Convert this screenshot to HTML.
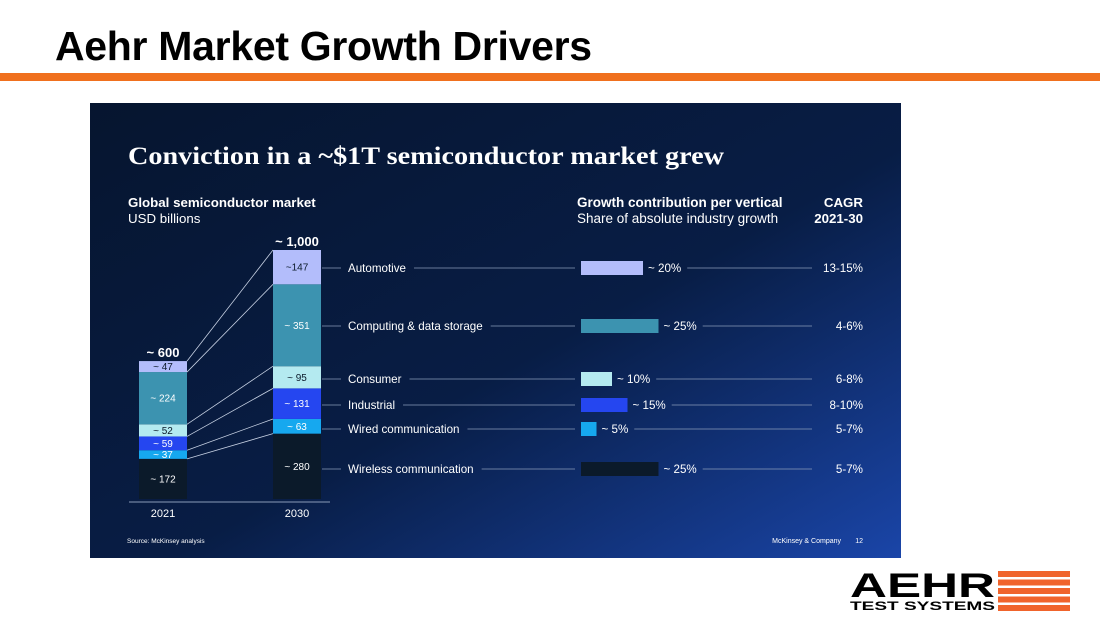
<!DOCTYPE html>
<html><head><meta charset="utf-8">
<style>
body{margin:0;width:1100px;height:619px;background:#fff;position:relative;overflow:hidden;font-family:"Liberation Sans",sans-serif}
#title{position:absolute;left:55px;top:23px;font-size:41px;font-weight:bold;color:#000;letter-spacing:-0.3px;white-space:nowrap}
#rule{position:absolute;left:0;top:73px;width:1100px;height:8px;background:#f0701e}
#panel{position:absolute;left:90px;top:103px}
#logo{position:absolute;left:850px;top:570px;width:222px;height:42px}
</style></head><body>
<div id="title">Aehr Market Growth Drivers</div>
<div id="rule"></div>
<svg id="panel" width="811" height="455" viewBox="90 103 811 455" font-family="Liberation Sans, sans-serif">
<defs><linearGradient id="bg" x1="0" y1="0" x2="1" y2="1">
<stop offset="0" stop-color="#06152f"/><stop offset="0.55" stop-color="#081d45"/><stop offset="1" stop-color="#1a45a8"/></linearGradient></defs>
<rect x="90" y="103" width="811" height="455" fill="url(#bg)"/>
<text x="128" y="164" font-family="Liberation Serif, serif" font-weight="bold" font-size="25" fill="#fff" textLength="596" lengthAdjust="spacingAndGlyphs">Conviction in a ~$1T semiconductor market grew</text>
<text x="128" y="207" font-size="13.3" font-weight="bold" fill="#fff">Global semiconductor market</text>
<text x="128" y="223" font-size="13.3" fill="#fff">USD billions</text>
<text x="577" y="207" font-size="13.5" font-weight="bold" fill="#fff">Growth contribution per vertical</text>
<text x="577" y="223" font-size="13.5" fill="#fff">Share of absolute industry growth</text>
<text x="863" y="207" font-size="13.3" font-weight="bold" fill="#fff" text-anchor="end">CAGR</text>
<text x="863" y="223" font-size="13.3" font-weight="bold" fill="#fff" text-anchor="end">2021-30</text>
<line x1="129" y1="502" x2="330" y2="502" stroke="#8a9bb8" stroke-width="1"/>
<text x="163" y="517" font-size="11" fill="#fff" text-anchor="middle">2021</text>
<text x="297" y="517" font-size="11" fill="#fff" text-anchor="middle">2030</text>
<text x="127" y="543" font-size="6.5" fill="#fff">Source: McKinsey analysis</text>
<text x="841" y="543" font-size="7" fill="#fff" text-anchor="end">McKinsey &amp; Company</text>
<text x="863" y="543" font-size="7" fill="#fff" text-anchor="end">12</text>
<g id="g"></g>
</svg>
<svg id="logo" viewBox="0 0 222 42">
<text x="0" y="27" font-family="Liberation Sans, sans-serif" font-weight="bold" font-size="34" fill="#000" textLength="145" lengthAdjust="spacingAndGlyphs">AEHR</text>
<text x="0" y="40" font-family="Liberation Sans, sans-serif" font-weight="bold" font-size="12" fill="#000" textLength="145" lengthAdjust="spacingAndGlyphs">TEST SYSTEMS</text>
<rect x="148" y="1" width="72" height="6" fill="#f0642c"/><rect x="148" y="9.5" width="72" height="6" fill="#f0642c"/><rect x="148" y="18" width="72" height="6" fill="#f0642c"/><rect x="148" y="26.5" width="72" height="6" fill="#f0642c"/><rect x="148" y="35" width="72" height="6" fill="#f0642c"/>
</svg>
<script>
const verticals=["Automotive","Computing & data storage","Consumer","Industrial","Wired communication","Wireless communication"];
const values2021=[47,224,52,59,37,172];
const values2030=[147,351,95,131,63,280];
const labels2021=["~ 47","~ 224","~ 52","~ 59","~ 37","~ 172"];
const labels2030=["~147","~ 351","~ 95","~ 131","~ 63","~ 280"];
const growthShare=[20,25,10,15,5,25];
const cagrLabels=["13-15%","4-6%","6-8%","8-10%","5-7%","5-7%"];
const totals=["~ 600","~ 1,000"];
const colors=["#b3bdfb","#3c93b0","#b4eaf0","#2546f0","#16a8ef","#0b1a2a"];
const textCol=["#0b1a2a","#fff","#0b1a2a","#fff","#fff","#fff"];
const NS="http://www.w3.org/2000/svg",g=document.getElementById('g');
const base=499,k=249/1067;
const yS=v=>base-v*k;
const xG=p=>581+p*3.1;
function el(t,a,txt){const e=document.createElementNS(NS,t);for(const n in a)e.setAttribute(n,a[n]);if(txt!=null)e.textContent=txt;g.appendChild(e);return e;}
function stack(vals,x,labs,yr){let c=0;const tops=[],bots=[];
 for(let i=vals.length-1;i>=0;i--){const y0=yS(c),y1=yS(c+vals[i]);bots[i]=y0;tops[i]=y1;
  const r=el('rect',{x:x,y:y1,width:48,height:y0-y1,fill:colors[i]});
  
  
  const t=el('text',{x:x+24,y:(y0+y1)/2+3.5,'font-size':10,fill:textCol[i],'text-anchor':'middle'},labs[i]);
  
  
  c+=vals[i];}
 const tt=el('text',{x:x+24,y:yS(c)-4,'font-size':13,'font-weight':'bold',fill:'#fff','text-anchor':'middle'},yr==2021?totals[0]:totals[1]);
 
 
 return {tops,bots};}
const a=stack(values2021,139,labels2021,2021),b=stack(values2030,273,labels2030,2030);
for(let i=0;i<6;i++){
 const l=el('line',{x1:187,y1:a.tops[i],x2:273,y2:b.tops[i],stroke:'#c8d2e4','stroke-width':0.8});
 
 
}
const rowY=[268,326,379,405,429,469];
for(let i=0;i<6;i++){const y=rowY[i];
 const tl=el('text',{x:348,y:y+4,'font-size':11.6,fill:'#fff'},verticals[i]);
 
 
 const lw=tl.getComputedTextLength();
 el('line',{x1:322,y1:y,x2:341,y2:y,stroke:'#8a9bb8','stroke-width':0.8});
 el('line',{x1:348+lw+8,y1:y,x2:575,y2:y,stroke:'#8a9bb8','stroke-width':0.8});
 const gx=xG(growthShare[i]);
 const r=el('rect',{x:581,y:y-7,width:gx-581,height:14,fill:colors[i]});
 
 
 const gt=el('text',{x:gx+5,y:y+4,'font-size':11.6,fill:'#fff'},'~ '+growthShare[i]+'%');
 
 
 el('line',{x1:gx+5+gt.getComputedTextLength()+6,y1:y,x2:812,y2:y,stroke:'#8a9bb8','stroke-width':0.8});
 const ct=el('text',{x:863,y:y+4,'font-size':11.6,fill:'#fff','text-anchor':'end'},cagrLabels[i]);
 
 
}
</script>
</body></html>
